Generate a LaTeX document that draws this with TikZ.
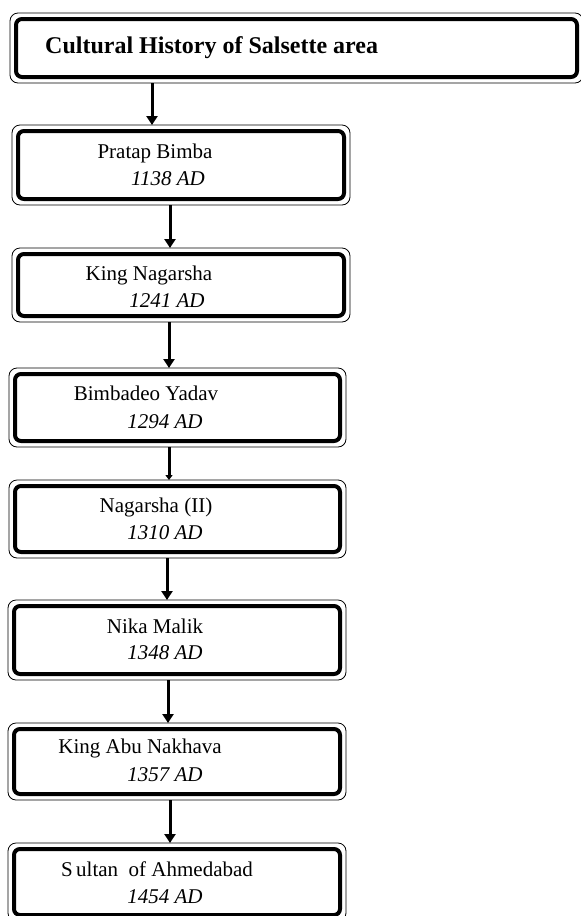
\documentclass[tikz,border=0pt]{standalone}
\usepackage{fontspec}
\setmainfont{Liberation Serif}
\usetikzlibrary{arrows.meta}
\begin{document}
\begin{tikzpicture}[x=1pt,y=-1pt,
  outerbox/.style={draw, line width=0.8pt, rounded corners=8pt, inner sep=0pt, outer sep=0pt},
  namelbl/.style={anchor=base, inner sep=0pt, font=\fontsize{21}{24}\selectfont},
  datelbl/.style={anchor=base, inner sep=0pt, font=\fontsize{21}{24}\selectfont\itshape},
  titlelbl/.style={anchor=base west, inner sep=0pt, font=\fontsize{24}{28}\selectfont\bfseries},
  flowarrow/.style={line width=3pt, -{Triangle[width=11pt,length=9pt]}}]
\useasboundingbox (0,0) rectangle (581,916);
\fill[white] (0,0) rectangle (581,916);
% boxes (outer thin line)
\node[outerbox, minimum width=573, minimum height=70] (t)  at (296.5,48) {};
\node[outerbox, minimum width=338, minimum height=80] (b1) at (181,165) {};
\node[outerbox, minimum width=338, minimum height=74] (b2) at (181,285) {};
\node[outerbox, minimum width=337, minimum height=79] (b3) at (177.5,407.5) {};
\node[outerbox, minimum width=337, minimum height=78] (b4) at (177.5,519) {};
\node[outerbox, minimum width=338, minimum height=80] (b5) at (177,640) {};
\node[outerbox, minimum width=338, minimum height=77] (b6) at (177,761.5) {};
\node[outerbox, minimum width=338, minimum height=78] (b7) at (177,882) {};
% inner thick line
\foreach \n in {t,b1,b2,b3,b4,b5,b6,b7}
  \draw[line width=4pt, rounded corners=6pt]
    ([shift={(6,6)}]\n.north west) rectangle ([shift={(-6,-6)}]\n.south east);
% texts
\node[titlelbl] (tt) at (45,53) {Cultural History of Salsette area};
\node[namelbl] (n1) at (155,158) {Pratap Bimba};
\node[datelbl] (d1) at (168,185) {1138 AD};
\node[namelbl] (n2) at (149,280) {King Nagarsha};
\node[datelbl] (d2) at (167,307) {1241 AD};
\node[namelbl] (n3) at (146,400) {Bimbadeo Yadav};
\node[datelbl] (d3) at (165,428) {1294 AD};
\node[namelbl] (n4) at (156,512) {Nagarsha (II)};
\node[datelbl] (d4) at (165,539) {1310 AD};
\node[namelbl] (n5) at (155,633) {Nika Malik};
\node[datelbl] (d5) at (165,659) {1348 AD};
\node[namelbl] (n6) at (140,753) {King Abu Nakhava};
\node[datelbl] (d6) at (165,781) {1357 AD};
\node[namelbl] (n7) at (157,876) {S\,ultan\ \ of Ahmedabad};
\node[datelbl] (d7) at (165,903) {1454 AD};
% arrows
\draw[flowarrow] (t.south -| 152,0) -- (b1.north -| 152,0);
\draw[flowarrow] (b1.south -| 170,0) -- (b2.north -| 170,0);
\draw[flowarrow] (b2.south -| 169,0) -- (b3.north -| 169,0);
\draw[line width=3pt, -{Triangle[width=7pt,length=5pt]}] (b3.south -| 169,0) -- (b4.north -| 169,0);
\draw[flowarrow] (b4.south -| 167,0) -- (b5.north -| 167,0);
\draw[flowarrow] (b5.south -| 168,0) -- (b6.north -| 168,0);
\draw[flowarrow] (b6.south -| 170,0) -- (b7.north -| 170,0);
\end{tikzpicture}
\end{document}
